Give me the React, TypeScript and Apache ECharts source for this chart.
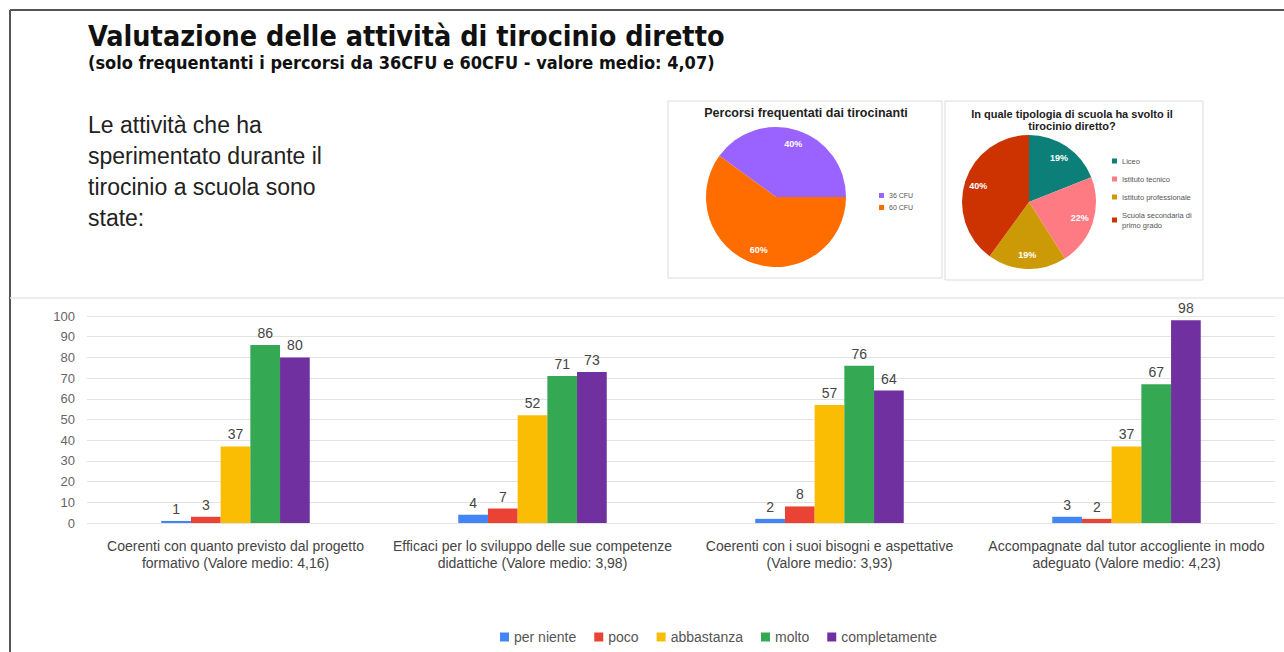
import React, { useEffect, useRef } from "react";
import * as echarts from "echarts";

const categories = [
  "Coerenti con quanto previsto dal progetto\nformativo (Valore medio: 4,16)",
  "Efficaci per lo sviluppo delle sue competenze\ndidattiche (Valore medio: 3,98)",
  "Coerenti con i suoi bisogni e aspettative\n(Valore medio: 3,93)",
  "Accompagnate dal tutor accogliente in modo\nadeguato (Valore medio: 4,23)",
];
const seriesNames = ["per niente", "poco", "abbastanza", "molto", "completamente"];
const perNiente = [1, 4, 2, 3];
const poco = [3, 7, 8, 2];
const abbastanza = [37, 52, 57, 37];
const molto = [86, 71, 76, 67];
const completamente = [80, 73, 64, 98];
const barColors = ["#4285F4", "#EA4335", "#FBBC04", "#34A853", "#7030A0"];

const percorsiNames = ["36 CFU", "60 CFU"];
const percorsiValues = [40, 60];
const percorsiColors = ["#9A62FF", "#FF6D01"];

const scuolaNames = ["Liceo", "Istituto tecnico", "Istituto professionale", "Scuola secondaria di\nprimo grado"];
const scuolaValues = [19, 22, 19, 40];
const scuolaColors = ["#0B7F78", "#FF7B84", "#CC9A06", "#CC3300"];

export default function App() {
  const ref = useRef<HTMLDivElement>(null);
  useEffect(() => {
    const chart = echarts.init(ref.current!, null, { renderer: "svg" });
    const allSeries = [perNiente, poco, abbastanza, molto, completamente];
    const barSeries = allSeries.map((d, i) => ({
      name: seriesNames[i],
      type: "bar",
      data: d,
      barGap: "0%",
      barCategoryGap: "50%",
      itemStyle: { color: barColors[i] },
      label: { show: true, position: "top", color: "#444", fontSize: 14, fontFamily: "Liberation Sans" },
    }));
    const pieLabel = { show: true, position: "inside", formatter: "{d}%", color: "#fff", fontSize: 9, fontWeight: "bold" };
    const makePie = (names: string[], values: number[], colors: string[], center: number[], r: number, start: number) => [
      {
        type: "pie",
        center,
        radius: r,
        startAngle: start,
        clockwise: true,
        data: names.map((n, i) => ({ name: n, value: values[i], itemStyle: { color: colors[i] } })),
        label: { show: false },
        labelLine: { show: false },
      },
      {
        type: "pie",
        center,
        radius: [r * 0.5, r],
        startAngle: start,
        clockwise: true,
        silent: true,
        data: names.map((n, i) => ({ name: n, value: values[i], itemStyle: { color: "rgba(0,0,0,0)" } })),
        label: pieLabel,
        labelLine: { show: false },
      },
    ];
    chart.setOption({
      animation: false,
      backgroundColor: "#fff",
      textStyle: { fontFamily: "Liberation Sans" },
      graphic: [
        { type: "line", shape: { x1: 10, y1: 10, x2: 1284, y2: 10 }, style: { stroke: "#555", lineWidth: 2 } },
        { type: "line", shape: { x1: 10, y1: 10, x2: 10, y2: 652 }, style: { stroke: "#555", lineWidth: 2 } },
        { type: "line", shape: { x1: 10, y1: 298, x2: 1284, y2: 298 }, style: { stroke: "#e6e6e6", lineWidth: 1.5 } },
        { type: "rect", shape: { x: 668, y: 101, width: 274, height: 177 }, style: { fill: "#fff", stroke: "#dcdcdc", lineWidth: 1 }, z: -1 },
        { type: "rect", shape: { x: 945, y: 101, width: 258, height: 179 }, style: { fill: "#fff", stroke: "#dcdcdc", lineWidth: 1 }, z: -1 },
        {
          type: "text", left: 88, top: 22,
          style: { text: "Valutazione delle attività di tirocinio diretto", font: "bold 28.5px 'DejaVu Sans Condensed'", fill: "#111" },
        },
        {
          type: "text", left: 88, top: 53,
          style: { text: "(solo frequentanti i percorsi da 36CFU e 60CFU - valore medio: 4,07)", font: "bold 18px 'DejaVu Sans Condensed'", fill: "#111" },
        },
        {
          type: "text", left: 88, top: 109,
          style: {
            text: "Le attività che ha\nsperimentato durante il\ntirocinio a scuola sono\nstate:",
            font: "23px 'Liberation Sans'", fill: "#222", lineHeight: 31,
          },
        },
        {
          type: "text", x: 806, y: 106,
          style: { text: "Percorsi frequentati dai tirocinanti", font: "bold 12.5px 'Liberation Sans'", fill: "#222", align: "center" },
        },
        {
          type: "text", x: 1072, y: 108,
          style: { text: "In quale tipologia di scuola ha svolto il\ntirocinio diretto?", font: "bold 11px 'Liberation Sans'", fill: "#222", align: "center", lineHeight: 12 },
        },
      ],
      legend: [
        {
          data: seriesNames,
          left: 495,
          top: 625,
          icon: "rect",
          itemWidth: 9,
          itemHeight: 9,
          itemGap: 18,
          textStyle: { color: "#555", fontSize: 14 },
        },
        {
          data: percorsiNames,
          left: 874,
          top: 187,
          orient: "vertical",
          icon: "rect",
          itemWidth: 5,
          itemHeight: 5,
          itemGap: 5,
          textStyle: { color: "#555", fontSize: 7 },
        },
        {
          data: scuolaNames,
          left: 1107,
          top: 151,
          orient: "vertical",
          icon: "rect",
          itemWidth: 5,
          itemHeight: 5,
          itemGap: 8,
          textStyle: { color: "#555", fontSize: 7.5, lineHeight: 10 },
        },
      ],
      grid: { left: 87, right: 9, top: 316, bottom: 129, containLabel: false },
      xAxis: {
        type: "category",
        data: categories,
        axisLine: { show: false },
        axisTick: { show: false },
        axisLabel: { color: "#444", fontSize: 14, margin: 14, lineHeight: 17, interval: 0 },
      },
      yAxis: {
        type: "value",
        min: 0,
        max: 100,
        interval: 10,
        axisLine: { show: false },
        axisTick: { show: false },
        axisLabel: { color: "#666", fontSize: 13, margin: 12 },
        splitLine: { lineStyle: { color: "#e3e3e3" } },
      },
      series: [
        ...barSeries,
        ...makePie(percorsiNames, percorsiValues, percorsiColors, [776, 197], 70, 144),
        ...makePie(scuolaNames, scuolaValues, scuolaColors, [1029, 202], 67, 90),
      ],
    });
    return () => chart.dispose();
  }, []);
  return <div ref={ref} style={{ position: "fixed", left: 0, top: 0, width: 1284, height: 652 }} />;
}
